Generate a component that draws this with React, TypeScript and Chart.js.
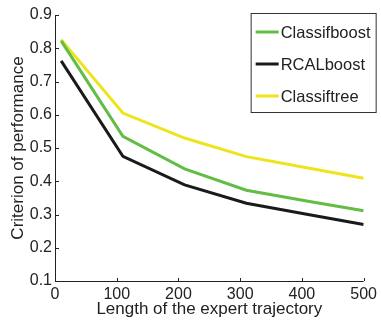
import React, { useEffect, useRef } from "react";
import { Chart, registerables } from "chart.js";

Chart.register(...registerables);

const trajectoryLengths = [10, 110, 210, 310, 410, 500];
const classifboost = [0.822, 0.535, 0.437, 0.373, 0.340, 0.311];
const rcalboost = [0.762, 0.475, 0.389, 0.334, 0.300, 0.270];
const classiftree = [0.826, 0.605, 0.530, 0.474, 0.440, 0.409];

const seriesNames = ["Classifboost", "RCALboost", "Classiftree"];
const seriesColors = ["#62bd45", "#1a1a1a", "#ede41c"];

const xTicks = [0, 100, 200, 300, 400, 500];
const yTicks = [0.1, 0.2, 0.3, 0.4, 0.5, 0.6, 0.7, 0.8, 0.9];

const FONT = "'Liberation Sans', Arial, Helvetica, sans-serif";
const AXIS_COLOR = "#222";

const decorPlugin = {
  id: "decor",
  afterDraw(chart: any) {
    const { ctx, chartArea } = chart;
    const xs = chart.scales.x;
    const ys = chart.scales.y;
    ctx.save();
    // axes
    ctx.strokeStyle = AXIS_COLOR;
    ctx.lineWidth = 1;
    ctx.beginPath();
    ctx.moveTo(chartArea.left + 0.5, chartArea.top);
    ctx.lineTo(chartArea.left + 0.5, chartArea.bottom + 0.5);
    ctx.lineTo(chartArea.right, chartArea.bottom + 0.5);
    ctx.stroke();
    // inward tick marks
    ctx.beginPath();
    xTicks.forEach((v) => {
      const px = Math.round(xs.getPixelForValue(v)) + 0.5;
      ctx.moveTo(px, chartArea.bottom);
      ctx.lineTo(px, chartArea.bottom - 3);
    });
    yTicks.forEach((v) => {
      const py = Math.round(ys.getPixelForValue(v)) + 0.5;
      ctx.moveTo(chartArea.left, py);
      ctx.lineTo(chartArea.left + 4, py);
    });
    ctx.stroke();

    // legend box
    const bx = chartArea.right - 113;
    const by = chartArea.top - 2;
    const bw = 125;
    const bh = 99;
    ctx.fillStyle = "#fff";
    ctx.fillRect(bx, by, bw, bh);
    ctx.strokeStyle = "#333";
    ctx.lineWidth = 1;
    ctx.strokeRect(bx + 0.5, by + 0.5, bw, bh);
    ctx.font = `16.5px ${FONT}`;
    ctx.textBaseline = "middle";
    ctx.textAlign = "left";
    seriesNames.forEach((name, i) => {
      const cy = by + 19 + i * 32;
      ctx.strokeStyle = seriesColors[i];
      ctx.lineWidth = 3;
      ctx.beginPath();
      ctx.moveTo(bx + 5, cy);
      ctx.lineTo(bx + 28, cy);
      ctx.stroke();
      ctx.fillStyle = "#222";
      ctx.fillText(name, bx + 30, cy + 1);
    });
    ctx.restore();
  },
};

export default function App() {
  const canvasRef = useRef<HTMLCanvasElement | null>(null);

  useEffect(() => {
    const canvas = canvasRef.current;
    if (!canvas) return;
    const series = [classifboost, rcalboost, classiftree];
    const chart = new Chart(canvas, {
      type: "line",
      data: {
        datasets: series.map((vals, i) => ({
          label: seriesNames[i],
          data: trajectoryLengths.map((x, j) => ({ x, y: vals[j] })),
          borderColor: seriesColors[i],
          backgroundColor: seriesColors[i],
          borderWidth: 3,
          pointRadius: 0,
          tension: 0,
          fill: false,
        })),
      },
      options: {
        animation: false,
        responsive: true,
        maintainAspectRatio: false,
        layout: { padding: { top: 15, right: 15, left: 0, bottom: 0 } },
        plugins: {
          legend: { display: false },
          tooltip: { enabled: false },
        },
        scales: {
          x: {
            type: "linear",
            min: 0,
            max: 500,
            afterFit: (scale: any) => {
              scale.height = 42;
            },
            afterBuildTicks: (scale: any) => {
              scale.ticks = xTicks.map((v) => ({ value: v }));
            },
            grid: { display: false, drawTicks: false },
            border: { display: false },
            ticks: {
              padding: 4,
              color: "#222",
              font: { family: FONT, size: 16 },
              maxRotation: 0,
              callback: (v: any) => String(v),
            },
            title: {
              display: true,
              text: "Length of the expert trajectory",
              color: "#222",
              font: { family: FONT, size: 17 },
              padding: { top: 0, bottom: 3 },
            },
          },
          y: {
            type: "linear",
            min: 0.1,
            max: 0.9,
            afterFit: (scale: any) => {
              scale.width = 55;
            },
            afterBuildTicks: (scale: any) => {
              scale.ticks = yTicks.map((v) => ({ value: v }));
            },
            grid: { display: false, drawTicks: false },
            border: { display: false },
            ticks: {
              padding: 3,
              color: "#222",
              font: { family: FONT, size: 16 },
              callback: (v: any) => Number(v).toFixed(1),
            },
            title: {
              display: true,
              text: "Criterion of performance",
              color: "#222",
              font: { family: FONT, size: 17 },
              padding: { top: 8, bottom: 0 },
            },
          },
        },
      },
      plugins: [decorPlugin],
    });
    return () => chart.destroy();
  }, []);

  return (
    <div
      style={{
        position: "absolute",
        left: 0,
        top: 0,
        width: 381,
        height: 323,
        background: "#fff",
      }}
    >
      <canvas ref={canvasRef} />
    </div>
  );
}
